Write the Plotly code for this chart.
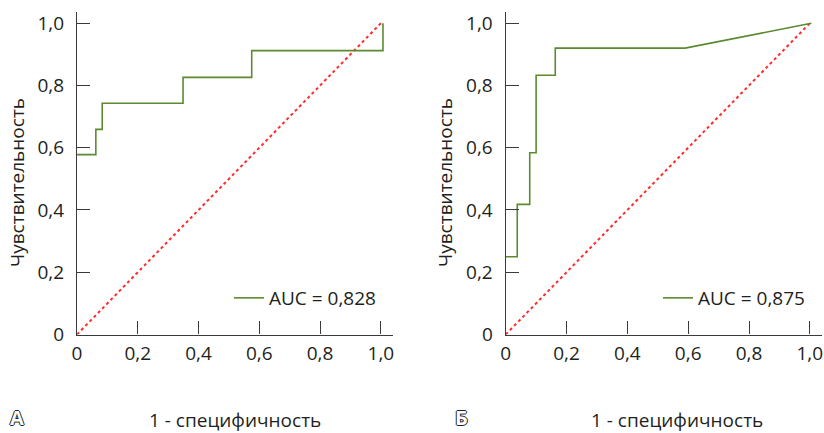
import plotly.graph_objects as go

# ROC curve A (1 - specificity, sensitivity)
fpr_a = [0.0, 0.062, 0.062, 0.083, 0.083, 0.349, 0.349, 0.575, 0.575, 1.007, 1.007]
tpr_a = [0.578, 0.578, 0.659, 0.659, 0.743, 0.743, 0.826, 0.826, 0.912, 0.912, 1.0]
auc_a = "AUC = 0,828"

# ROC curve Б
fpr_b = [0.0, 0.038, 0.038, 0.079, 0.079, 0.100, 0.100, 0.163, 0.163, 0.590, 1.005]
tpr_b = [0.25, 0.25, 0.418, 0.418, 0.584, 0.584, 0.833, 0.833, 0.920, 0.920, 1.0]
auc_b = "AUC = 0,875"

# reference diagonal
diag_x = [0.0, 1.0]
diag_y = [0.0, 1.0]

tick_vals = [0, 0.2, 0.4, 0.6, 0.8, 1.0]
tick_text = ["0", "0,2", "0,4", "0,6", "0,8", "1,0"]

x_title = "1 - специфичность"
y_title = "Чувствительность"
panel_labels = ["А", "Б"]

GREEN = "#5b8a2f"
RED = "#ff2b2b"
INK = "#231f20"
AXIS = "#3a3a3a"
FONT = "Open Sans"
W, H = 824, 433

fig = go.Figure()

fig.add_trace(go.Scatter(x=diag_x, y=diag_y, mode="lines", showlegend=False,
                         line=dict(color=RED, width=2, dash="dot"),
                         xaxis="x", yaxis="y", hoverinfo="skip"))
fig.add_trace(go.Scatter(x=fpr_a, y=tpr_a, mode="lines", name=auc_a,
                         line=dict(color=GREEN, width=1.6),
                         xaxis="x", yaxis="y", legend="legend"))
fig.add_trace(go.Scatter(x=diag_x, y=diag_y, mode="lines", showlegend=False,
                         line=dict(color=RED, width=2, dash="dot"),
                         xaxis="x2", yaxis="y2", hoverinfo="skip"))
fig.add_trace(go.Scatter(x=fpr_b, y=tpr_b, mode="lines", name=auc_b,
                         line=dict(color=GREEN, width=1.6),
                         xaxis="x2", yaxis="y2", legend="legend2"))

y_dom = [(H - 334.5) / H, (H - 11.7) / H]
xrng = [0, 1.04]
yrng = [0, 1.037]

def xaxis(dom, anchor):
    return dict(domain=dom, range=xrng, anchor=anchor, showgrid=False, zeroline=False,
                automargin=False,
                showline=True, linecolor=AXIS, linewidth=1.3,
                ticks="inside", ticklen=13, tickwidth=1.3, tickcolor=AXIS,
                tickvals=tick_vals, ticktext=tick_text, ticklabelstandoff=2,
                tickfont=dict(family=FONT, size=19, color=INK), fixedrange=True)

def yaxis(anchor):
    return dict(domain=y_dom, range=yrng, anchor=anchor, showgrid=False, zeroline=False,
                automargin=False,
                showline=True, linecolor=AXIS, linewidth=1.3,
                ticks="inside", ticklen=13, tickwidth=1.3, tickcolor=AXIS,
                tickvals=tick_vals, ticktext=tick_text, ticklabelstandoff=8,
                tickfont=dict(family=FONT, size=19, color=INK), fixedrange=True)

legend_style = dict(font=dict(family=FONT, size=19, color=INK), bgcolor="rgba(0,0,0,0)",
                    borderwidth=0, xanchor="left", yanchor="middle", itemwidth=30)

outline = "-1px 0 0 #222, 1px 0 0 #222, 0 -1px 0 #222, 0 1px 0 #222"

def ann(text, x, y, size=19, color=INK, angle=0, shadow=None, weight=None):
    f = dict(family=FONT, size=size, color=color)
    if shadow:
        f["shadow"] = shadow
    if weight:
        f["weight"] = weight
    return dict(text=text, x=x / W, y=(H - y) / H, xref="paper", yref="paper",
                xanchor="center", yanchor="middle", textangle=angle,
                showarrow=False, font=f)

annotations = [
    ann(x_title, 235, 420),
    ann(x_title, 677, 420),
    ann(y_title, 17, 183, angle=-90),
    ann(y_title, 445, 183, angle=-90),
    ann(panel_labels[0], 17, 417, size=20, color="white", shadow=outline, weight="bold"),
    ann(panel_labels[1], 461, 417, size=20, color="white", shadow=outline, weight="bold"),
]

fig.update_layout(
    template="none",
    width=W, height=H, autosize=False,
    margin=dict(l=0, r=0, t=0, b=0, pad=0),
    paper_bgcolor="white", plot_bgcolor="white",
    font=dict(family=FONT, color=INK),
    xaxis=xaxis([77 / W, 393 / W], "y"),
    yaxis=yaxis("x"),
    xaxis2=xaxis([505.7 / W, 822 / W], "y2"),
    yaxis2=yaxis("x2"),
    legend=dict(x=229 / W, y=(H - 298) / H, **legend_style),
    legend2=dict(x=658 / W, y=(H - 298) / H, **legend_style),
    annotations=annotations,
    showlegend=True,
)

fig.write_html("out.html", config={"displayModeBar": False},
               post_script="document.body.style.margin='0';")
